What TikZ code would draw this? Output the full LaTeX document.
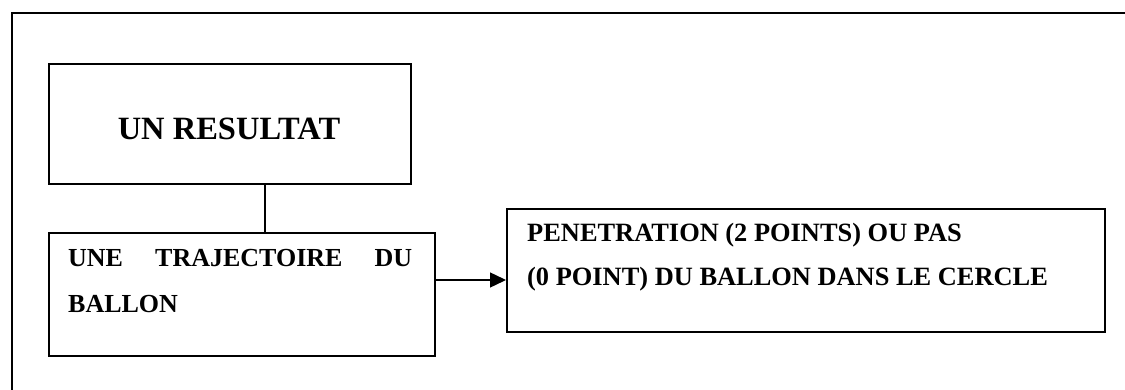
\documentclass[tikz,border=0pt]{standalone}
\usepackage{fontspec}
\setmainfont{Liberation Serif}
\usetikzlibrary{arrows.meta}
\begin{document}
\begin{tikzpicture}[x=1pt,y=-1pt,
  boxstyle/.style={draw,line width=1.6pt,rectangle,inner sep=0pt,anchor=north west},
  txt/.style={inner sep=0pt,font=\bfseries},
  link/.style={line width=1.4pt},
  arr/.style={line width=1.4pt,-{Triangle[length=16pt,width=15pt]}}]
\useasboundingbox (0,0) rectangle (1125,390);
\fill[white] (0,0) rectangle (1125,390);
% outer frame (left and top edges)
\coordinate (fbl) at (12,392);
\coordinate (ftl) at (12,13);
\coordinate (ftr) at (1127,13);
\draw[line width=1.8pt] (fbl) -- (ftl) -- (ftr);
% boxes
\node[boxstyle,minimum width=362pt,minimum height=120pt] (box1) at (48,63) {};
\node[boxstyle,minimum width=386pt,minimum height=123pt] (box2) at (48,232) {};
\node[boxstyle,minimum width=598pt,minimum height=123pt] (box3) at (506,208) {};
% texts
\node[txt,anchor=base,font=\fontsize{32.5}{38}\bfseries\selectfont] (t1) at (229,140) {UN RESULTAT};
\node[txt,anchor=base west,text width=344pt,align=justify,
      font=\fontsize{26}{46}\bfseries\selectfont] (t2) at (68,267)
      {\tolerance=10000\hyphenpenalty=10000 UNE TRAJECTOIRE DU BALLON};
\node[txt,anchor=base west,align=left,
      font=\fontsize{26.4}{44}\bfseries\selectfont] (t3) at (527,286)
      {PENETRATION (2 POINTS) OU PAS\\(0 POINT) DU BALLON DANS LE CERCLE};
% connectors
\coordinate (cx) at (265,0);
\coordinate (ay) at (0,280);
\draw[link] (box1.south -| cx) -- (box2.north -| cx);
\draw[arr] (box2.east |- ay) -- (box3.west |- ay);
\end{tikzpicture}
\end{document}
